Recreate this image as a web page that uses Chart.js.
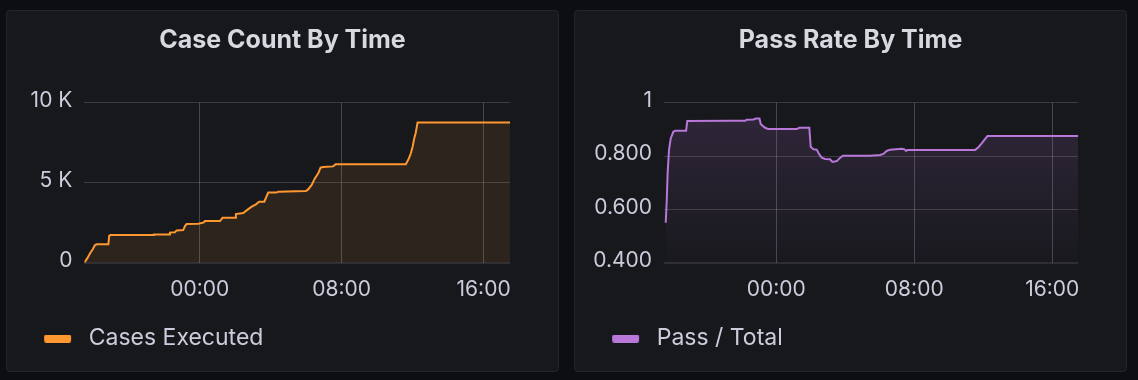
<!DOCTYPE html>
<html>
<head>
<meta charset="utf-8">
<script src="https://cdn.jsdelivr.net/npm/chart.js@4.4.1/dist/chart.umd.min.js"></script>
<style>
  html, body { margin: 0; padding: 0; background: #0d0e11; width: 1138px; height: 380px; overflow: hidden; }
  .panel { position: absolute; top: 10px; width: 553px; height: 362px; box-sizing: border-box;
           background: #17181c; border: 1px solid #24262b; border-radius: 4px; }
  canvas { position: absolute; top: 10px; }
</style>
</head>
<body>
<div class="panel" style="left:6px"></div>
<div class="panel" style="left:574px"></div>
<canvas id="c1" width="553" height="362" style="left:6px"></canvas>
<canvas id="c2" width="553" height="362" style="left:574px"></canvas>
<script>
// ---- data (x = hours since midnight of the first day) ----
const timeMin = 17.5;
const timeMax = 41.5;
const timeTicks = [24, 32, 40];            // 00:00, 08:00, 16:00

const caseTimes = [17.50, 17.66, 17.82, 17.97, 18.10, 18.19, 18.85, 18.90, 18.98, 21.38, 21.42, 22.28, 22.32, 22.60, 22.70, 23.07, 23.17, 23.26, 23.92, 24.24, 24.29, 25.14, 25.29, 25.99, 26.04, 26.45, 26.68, 26.93, 27.17, 27.35, 27.64, 27.86, 28.33, 28.42, 29.99, 30.11, 30.31, 30.49, 30.68, 30.81, 30.96, 31.52, 31.66, 35.62, 35.79, 35.90, 36.00, 36.09, 36.17, 36.28, 41.50];
const caseCounts = [0, 270, 590, 840, 1100, 1150, 1150, 1690, 1730, 1730, 1760, 1760, 1880, 1900, 2020, 2040, 2290, 2420, 2440, 2520, 2600, 2600, 2810, 2810, 3040, 3100, 3300, 3500, 3650, 3810, 3810, 4380, 4380, 4440, 4480, 4580, 4860, 5270, 5590, 5940, 5980, 6020, 6150, 6150, 6520, 6840, 7250, 7770, 8090, 8770, 8770];
const caseTicks = [0, 5000, 10000];

const passTimes = [17.60, 17.66, 17.71, 17.79, 17.89, 18.04, 18.14, 18.78, 18.85, 21.33, 22.20, 22.29, 22.68, 22.83, 23.03, 23.11, 23.36, 23.55, 25.19, 25.34, 25.92, 26.00, 26.16, 26.35, 26.50, 26.64, 26.83, 27.12, 27.26, 27.51, 27.66, 27.86, 29.44, 30.02, 30.21, 30.40, 30.60, 31.28, 31.43, 31.53, 31.60, 35.53, 35.72, 35.92, 36.11, 36.24, 41.50];
const passRates = [0.550, 0.635, 0.735, 0.823, 0.866, 0.891, 0.895, 0.895, 0.931, 0.932, 0.932, 0.936, 0.937, 0.941, 0.941, 0.919, 0.906, 0.901, 0.901, 0.906, 0.906, 0.835, 0.825, 0.824, 0.806, 0.794, 0.789, 0.788, 0.778, 0.781, 0.791, 0.801, 0.801, 0.804, 0.808, 0.819, 0.824, 0.827, 0.825, 0.819, 0.823, 0.823, 0.833, 0.848, 0.864, 0.875, 0.875];
const passTicks = [0.4, 0.6, 0.8, 1];

// ---- styling ----
Chart.defaults.font.family = 'Inter, "Noto Sans", sans-serif';
const TEXT = '#ccccdc';
const ORANGE = '#FF9830';
const PURPLE = '#B877D9';

function fmtTime(v) {
  const h = ((v % 24) + 24) % 24;
  const hh = Math.floor(h), mm = Math.round((h - hh) * 60);
  return String(hh).padStart(2, '0') + ':' + String(mm).padStart(2, '0');
}

// legend marker: transparent left margin + rounded colour bar
function swatch(color) {
  const c = document.createElement('canvas');
  c.width = 71; c.height = 8;
  const g = c.getContext('2d');
  g.fillStyle = color;
  g.beginPath();
  g.roundRect(38, 0, 27, 8, 2);
  g.fill();
  return c;
}

function makeChart(id, label, times, values, color, fillOpt, bg, yMin, yMax, yTicks, yFmt, yWidth, title) {
  return new Chart(document.getElementById(id), {
    type: 'line',
    data: {
      datasets: [{
        label: label,
        data: times.map((t, i) => ({ x: t, y: values[i] })),
        borderColor: color,
        borderWidth: 2,
        backgroundColor: bg,
        fill: fillOpt,
        pointRadius: 0,
        tension: 0
      }]
    },
    options: {
      responsive: false,
      animation: false,
      events: [],
      layout: { padding: { top: 0, left: 0, right: 0, bottom: 12 } },
      plugins: {
        title: {
          display: true, text: title, color: '#d8d9e0',
          font: { size: 25, weight: '700' },
          padding: { top: 15.9, bottom: 46.8 }
        },
        legend: {
          display: true, position: 'bottom', align: 'start',
          labels: {
            usePointStyle: true, pointStyleWidth: 71.2, padding: 0,
            color: TEXT, font: { size: 23 },
            generateLabels: (chart) => chart.data.datasets.map((ds, i) => ({
              text: ds.label, pointStyle: swatch(ds.borderColor),
              fillStyle: ds.borderColor, strokeStyle: ds.borderColor,
              lineWidth: 0, hidden: false, datasetIndex: i, fontColor: TEXT
            }))
          }
        },
        tooltip: { enabled: false }
      },
      scales: {
        x: {
          type: 'linear', min: timeMin, max: timeMax,
          afterBuildTicks: (s) => { s.ticks = timeTicks.map(v => ({ value: v })); },
          afterFit: (s) => { s.height = 64.3; },
          grid: { color: 'rgba(204,204,220,0.26)', drawTicks: false },
          border: { display: false },
          ticks: { color: TEXT, font: { size: 21 }, padding: 14.4, maxRotation: 0, callback: (v) => fmtTime(v) }
        },
        y: {
          type: 'linear', min: yMin, max: yMax,
          afterBuildTicks: (s) => { s.ticks = yTicks.map(v => ({ value: v })); },
          afterFit: (s) => { s.width = yWidth; },
          grid: {
            drawTicks: false,
            color: (c) => c.index === 0 ? 'rgba(204,204,220,0.13)' : 'rgba(204,204,220,0.2)',
            lineWidth: (c) => c.index === 0 ? 2 : 1
          },
          border: { display: false },
          ticks: { color: TEXT, font: { size: 21 }, padding: 12, labelOffset: -2, callback: yFmt }
        },
        pad: {
          type: 'linear', position: 'right', display: true,
          grid: { display: false }, border: { display: false }, ticks: { display: false },
          afterFit: (s) => { s.width = 48.8; }
        }
      }
    }
  });
}

makeChart('c1', 'Cases Executed', caseTimes, caseCounts, ORANGE, 'origin', 'rgba(255,152,48,0.1)',
  0, 10000, caseTicks, (v) => v === 0 ? '0' : (v / 1000) + ' K', 78.4, 'Case Count By Time');

const purpleGradient = (ctx) => {
  const ca = ctx.chart.chartArea;
  if (!ca) return 'rgba(184,119,217,0.1)';
  const g = ctx.chart.ctx.createLinearGradient(0, ca.top, 0, ca.bottom);
  g.addColorStop(0, 'rgba(184,119,217,0.17)');
  g.addColorStop(1, 'rgba(184,119,217,0.01)');
  return g;
};
makeChart('c2', 'Pass / Total', passTimes, passRates, PURPLE, 'start', purpleGradient,
  0.4, 1, passTicks, (v) => Math.abs(v - 1) < 1e-9 ? '1' : v.toFixed(3), 90, 'Pass Rate By Time');
</script>
</body>
</html>
